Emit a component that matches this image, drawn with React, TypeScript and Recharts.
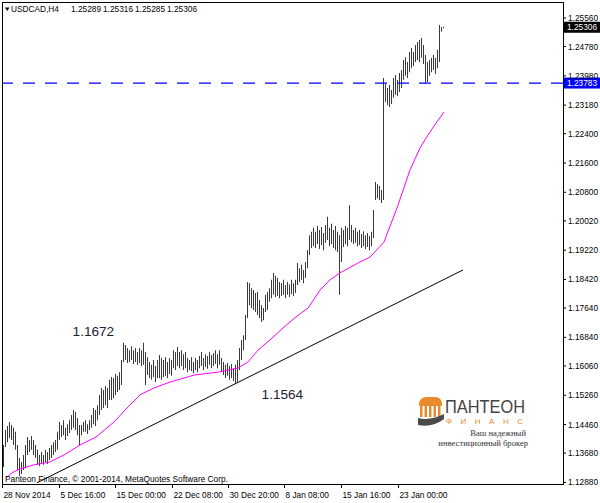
import React from "react";
import { ComposedChart, Bar, Line, XAxis, YAxis, ReferenceLine, ReferenceDot } from "recharts";

const highs = [
  1.1390, 1.1431, 1.1442, 1.1453, 1.1445, 1.1437, 1.1426, 1.1390, 1.1355, 1.1344,
  1.1363, 1.1390, 1.1412, 1.1404, 1.1415, 1.1404, 1.1390, 1.1377, 1.1363, 1.1371,
  1.1363, 1.1377, 1.1371, 1.1382, 1.1390, 1.1398, 1.1404, 1.1426, 1.1453, 1.1445,
  1.1458, 1.1437, 1.1447, 1.1458, 1.1472, 1.1486, 1.1480, 1.1464, 1.1445, 1.1445,
  1.1453, 1.1458, 1.1447, 1.1458, 1.1472, 1.1491, 1.1486, 1.1499, 1.1527, 1.1546,
  1.1540, 1.1551, 1.1546, 1.1568, 1.1576, 1.1573, 1.1584, 1.1579, 1.1589, 1.1622,
  1.1669, 1.1663, 1.1655, 1.1649, 1.1660, 1.1649, 1.1655, 1.1644, 1.1655, 1.1649,
  1.1669, 1.1644, 1.1630, 1.1617, 1.1609, 1.1622, 1.1606, 1.1622, 1.1636, 1.1628,
  1.1622, 1.1630, 1.1617, 1.1628, 1.1622, 1.1649, 1.1644, 1.1658, 1.1644, 1.1649,
  1.1638, 1.1644, 1.1628, 1.1622, 1.1630, 1.1617, 1.1628, 1.1622, 1.1633, 1.1644,
  1.1628, 1.1638, 1.1633, 1.1644, 1.1636, 1.1641, 1.1649, 1.1638, 1.1649, 1.1628,
  1.1617, 1.1609, 1.1614, 1.1606, 1.1611, 1.1600, 1.1609, 1.1622, 1.1655, 1.1677,
  1.1690, 1.1745, 1.1835, 1.1832, 1.1818, 1.1813, 1.1805, 1.1808, 1.1786, 1.1772,
  1.1764, 1.1800, 1.1808, 1.1818, 1.1841, 1.1860, 1.1852, 1.1846, 1.1835, 1.1832,
  1.1841, 1.1827, 1.1835, 1.1829, 1.1841, 1.1832, 1.1841, 1.1887, 1.1873, 1.1882,
  1.1868, 1.1890, 1.1922, 1.1963, 1.1972, 1.1983, 1.1972, 1.1988, 1.1977, 1.1985,
  1.1969, 1.1991, 1.2013, 1.1983, 1.1994, 1.1977, 1.1988, 1.1972, 1.1963, 1.1983,
  1.1977, 1.1988, 1.1983, 1.2045, 1.1991, 1.1977, 1.1983, 1.1972, 1.1977, 1.1966,
  1.1974, 1.1963, 1.1969, 1.1961, 1.1972, 1.2032, 1.2108, 1.2102, 1.2097, 1.2086,
  1.2392, 1.2376, 1.2365, 1.2373, 1.2359, 1.2392, 1.2400, 1.2387, 1.2406, 1.2414,
  1.2441, 1.2449, 1.2436, 1.2463, 1.2474, 1.2463, 1.2482, 1.2490, 1.2496, 1.2501,
  1.2482, 1.2455, 1.2436, 1.2441, 1.2447, 1.2455, 1.2447, 1.2469, 1.2537, 1.2531,
  1.2532,
];

const lows = [
  1.1330, 1.1385, 1.1398, 1.1409, 1.1404, 1.1390, 1.1377, 1.1322, 1.1305, 1.1311,
  1.1322, 1.1327, 1.1363, 1.1371, 1.1377, 1.1363, 1.1355, 1.1336, 1.1333, 1.1341,
  1.1336, 1.1344, 1.1338, 1.1349, 1.1355, 1.1363, 1.1371, 1.1377, 1.1404, 1.1412,
  1.1417, 1.1404, 1.1415, 1.1423, 1.1431, 1.1437, 1.1431, 1.1417, 1.1390, 1.1417,
  1.1426, 1.1426, 1.1420, 1.1431, 1.1437, 1.1447, 1.1442, 1.1458, 1.1472, 1.1486,
  1.1491, 1.1499, 1.1491, 1.1513, 1.1513, 1.1518, 1.1527, 1.1535, 1.1540, 1.1554,
  1.1617, 1.1622, 1.1614, 1.1617, 1.1622, 1.1611, 1.1617, 1.1609, 1.1614, 1.1606,
  1.1609, 1.1554, 1.1581, 1.1573, 1.1568, 1.1576, 1.1562, 1.1573, 1.1573, 1.1568,
  1.1576, 1.1579, 1.1573, 1.1584, 1.1579, 1.1600, 1.1595, 1.1606, 1.1600, 1.1606,
  1.1595, 1.1600, 1.1589, 1.1595, 1.1592, 1.1587, 1.1595, 1.1589, 1.1600, 1.1606,
  1.1595, 1.1603, 1.1598, 1.1609, 1.1600, 1.1606, 1.1611, 1.1600, 1.1609, 1.1589,
  1.1581, 1.1573, 1.1579, 1.1568, 1.1573, 1.1565, 1.1559, 1.1562, 1.1595, 1.1622,
  1.1649, 1.1677, 1.1737, 1.1772, 1.1764, 1.1759, 1.1753, 1.1745, 1.1737, 1.1726,
  1.1731, 1.1753, 1.1759, 1.1781, 1.1791, 1.1800, 1.1794, 1.1797, 1.1791, 1.1797,
  1.1800, 1.1791, 1.1800, 1.1794, 1.1802, 1.1797, 1.1805, 1.1827, 1.1835, 1.1841,
  1.1832, 1.1846, 1.1873, 1.1909, 1.1928, 1.1933, 1.1928, 1.1939, 1.1925, 1.1936,
  1.1922, 1.1942, 1.1950, 1.1933, 1.1939, 1.1928, 1.1922, 1.1917, 1.1800, 1.1890,
  1.1931, 1.1939, 1.1933, 1.1950, 1.1944, 1.1939, 1.1942, 1.1933, 1.1936, 1.1928,
  1.1933, 1.1925, 1.1931, 1.1922, 1.1933, 1.1955, 1.2059, 1.2064, 1.2059, 1.2051,
  1.2059, 1.2327, 1.2318, 1.2313, 1.2321, 1.2338, 1.2346, 1.2343, 1.2354, 1.2365,
  1.2387, 1.2398, 1.2392, 1.2408, 1.2419, 1.2425, 1.2436, 1.2441, 1.2436, 1.2447,
  1.2430, 1.2378, 1.2381, 1.2398, 1.2408, 1.2414, 1.2403, 1.2419, 1.2436, 1.2518,
  1.2528,
];

const maBars = [1, 4, 8, 15, 23, 30, 38, 46, 55, 62, 68, 75, 83, 95, 107, 117, 122, 127, 133, 140, 146, 152, 158, 163, 168, 178, 183, 190, 197, 203, 208, 211, 215, 220];
const maValues = [1.1300, 1.1314, 1.1325, 1.1336, 1.1344, 1.1363, 1.1390, 1.1412, 1.1453, 1.1494, 1.1527, 1.1546, 1.1562, 1.1581, 1.1589, 1.1600, 1.1617, 1.1649, 1.1677, 1.1712, 1.1740, 1.1764, 1.1813, 1.1841, 1.1860, 1.1890, 1.1903, 1.1944, 1.2045, 1.2141, 1.2201, 1.2228, 1.2261, 1.2299];

const timeTickBars = [-1, 27.5, 55.5, 84, 112, 140, 168.5, 197];
const timeTickLabels = ["28 Nov 2014", "5 Dec 16:00", "15 Dec 00:00", "22 Dec 08:00", "30 Dec 20:00", "8 Jan 08:00", "15 Jan 16:00", "23 Jan 00:00"];
const priceTicks = [1.2556, 1.2478, 1.2398, 1.2318, 1.224, 1.216, 1.208, 1.2002, 1.1922, 1.1842, 1.1764, 1.1684, 1.1606, 1.1526, 1.1446, 1.1368, 1.1288];

const symbolName = "USDCAD,H4";
const headerOHLC = ["1.25289", "1.25316", "1.25285", "1.25306"];
const lastPrice = 1.25306;
const levelPrice = 1.23783;
const trendBars = [16.5, 229.5];
const trendPrices = [1.1287, 1.1868];
const noteHigh = { bar: 34.3, price: 1.1688, text: "1.1672" };
const noteLow = { bar: 128.8, price: 1.1516, text: "1.1564" };
const copyright = "Panteon Finance, © 2001-2014, MetaQuotes Software Corp.";

const barData = highs.map((h, i) => ({ i, high: h, low: lows[i] }));
const maData = maBars.map((b, k) => ({ i: b, ma: maValues[k] }));

const FONT = "'Liberation Sans', Arial, sans-serif";
const SERIF = "'Liberation Serif', 'DejaVu Serif', serif";
const SMALL = 8.3;

const YTick = (props: any) => {
  const { x, y, payload } = props;
  return (
    <g>
      <line x1={x} x2={x + 3} y1={y} y2={y} stroke="#000" />
      <text x={x + 5} y={y + 3} fontSize={SMALL} fontFamily={FONT} fill="#000">
        {Number(payload.value).toFixed(5)}
      </text>
    </g>
  );
};

const XTick = (props: any) => {
  const { x, y, payload } = props;
  const idx = timeTickBars.indexOf(payload.value);
  return (
    <g>
      <line x1={x + 0.5} x2={x + 0.5} y1={y} y2={y + 4} stroke="#000" />
      <text x={x + 1.5} y={y + 14} fontSize={SMALL} fontFamily={FONT} fill="#000">
        {idx >= 0 ? timeTickLabels[idx] : ""}
      </text>
    </g>
  );
};

const PriceBox = (props: any) => {
  const { viewBox, bg, text } = props;
  if (!viewBox) return null;
  const x = viewBox.x + viewBox.width;
  const y = viewBox.y;
  return (
    <g>
      <rect x={x} y={y - 5.5} width={37} height={11} fill={bg} />
      <text x={x + 4} y={y + 3} fontSize={SMALL} fontFamily={FONT} fill="#fff">
        {text}
      </text>
    </g>
  );
};

const NoteLabel = (props: any) => {
  const { viewBox, text } = props;
  if (!viewBox) return null;
  return (
    <text x={viewBox.x + 1} y={viewBox.y + 1} fontSize={13.6} fontFamily={FONT} fill="#1c1c34">
      {text}
    </text>
  );
};

export default function App() {
  return (
    <div style={{ position: "absolute", left: 0, top: 0, width: 600, height: 503, background: "#fff", overflow: "hidden" }}>
      <ComposedChart width={600} height={503} data={barData} margin={{ top: 3, right: 0, bottom: 0, left: 2 }}>
        <XAxis
          type="number"
          dataKey="i"
          domain={[-1, 279.5]}
          ticks={timeTickBars}
          interval={0}
          allowDataOverflow
          height={19}
          tickSize={0}
          tickMargin={0}
          axisLine={false}
          tickLine={false}
          tick={(p: any) => <XTick {...p} />}
        />
        <YAxis
          type="number"
          orientation="right"
          domain={[1.12837, 1.25968]}
          ticks={priceTicks}
          interval={0}
          allowDataOverflow
          width={37}
          tickSize={0}
          tickMargin={0}
          axisLine={false}
          tickLine={false}
          tick={(p: any) => <YTick {...p} />}
        />
        <ReferenceLine
          segment={[
            { x: trendBars[0], y: trendPrices[0] },
            { x: trendBars[1], y: trendPrices[1] },
          ]}
          stroke="#000"
          strokeWidth={1}
        />
        <Bar dataKey={(d: any) => [d.low, d.high]} barSize={1} fill="#3a3a3a" isAnimationActive={false} />
        <Line data={maData} dataKey="ma" type="linear" stroke="#ff00ff" strokeWidth={1} dot={false} isAnimationActive={false} />
        <ReferenceLine
          y={levelPrice}
          stroke="#0000ff"
          strokeWidth={1.2}
          strokeDasharray="12 10"
          label={<PriceBox bg="#0000ff" text={levelPrice.toFixed(5)} />}
        />
        <ReferenceLine y={lastPrice} stroke="none" label={<PriceBox bg="#000" text={lastPrice.toFixed(5)} />} />
        <ReferenceDot x={noteHigh.bar} y={noteHigh.price} r={1} fill="none" stroke="none" label={<NoteLabel text={noteHigh.text} />} />
        <ReferenceDot x={noteLow.bar} y={noteLow.price} r={1} fill="none" stroke="none" label={<NoteLabel text={noteLow.text} />} />
      </ComposedChart>
      <svg width={600} height={503} style={{ position: "absolute", left: 0, top: 0, pointerEvents: "none" }}>
        <rect x={2.5} y={2.5} width={561} height={482} fill="none" stroke="#000" strokeWidth={1} />
        <polygon points="5,7.5 9.5,7.5 7.25,11" fill="#000" />
        <text x={11} y={12.3} fontSize={SMALL} fontFamily={FONT} fill="#000">{symbolName}</text>
        {headerOHLC.map((v, k) => (
          <text key={k} x={71 + k * 32} y={12.3} fontSize={SMALL} fontFamily={FONT} fill="#000">{v}</text>
        ))}
        <text x={5} y={482} fontSize={SMALL} fontFamily={FONT} fill="#000">{copyright}</text>
        <g>
          <path d="M419,405 Q419,397 427,397 L435,397 Q442,397 442,405 L442,406 L419,406 Z" fill="#e88b2e" />
          <rect x={420} y={406} width={2.5} height={11} fill="#e88b2e" />
          <rect x={424.5} y={406} width={2.5} height={11} fill="#e88b2e" />
          <rect x={429} y={406} width={2.5} height={11} fill="#e88b2e" />
          <rect x={433.5} y={406} width={2.5} height={11} fill="#e88b2e" />
          <rect x={438} y={406} width={2.5} height={11} fill="#e88b2e" />
          <path d="M418,418 Q430,421 444,414 L444,419 Q432,428 418,425 Z" fill="#4a4a4a" />
          <text x={445} y={413} fontSize={19} fontFamily={FONT} fill="#444" textLength={80} lengthAdjust="spacingAndGlyphs">ПАНТЕОН</text>
          <text x={446} y={423.5} fontSize={8} fontFamily={FONT} fill="#e88b2e" textLength={77} lengthAdjust="spacing">ФИНАНС</text>
          <text x={526} y={435.5} fontSize={8.6} fontFamily={SERIF} fill="#333" textAnchor="end">Ваш надежный</text>
          <text x={528} y={445.5} fontSize={8.6} fontFamily={SERIF} fill="#333" textAnchor="end">инвестиционный брокер</text>
        </g>
      </svg>
    </div>
  );
}
